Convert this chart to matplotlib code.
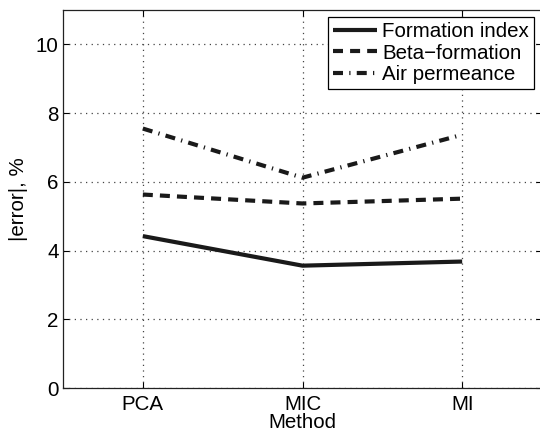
import matplotlib
matplotlib.use("Agg")
import matplotlib.pyplot as plt

methods = ["PCA", "MIC", "MI"]
formation_index = [4.42, 3.56, 3.68]
beta_formation = [5.63, 5.37, 5.51]
air_permeance = [7.55, 6.12, 7.37]
yticks = [0, 2, 4, 6, 8, 10]

plt.rcParams['font.family'] = ['Liberation Sans', 'DejaVu Sans']
fs = 14.8

fig = plt.figure(figsize=(5.4, 4.34), dpi=100)
ax = fig.add_axes([63/540, 1 - 388/434, (542-63)/540, (388-10)/434])

x = list(range(1, len(methods) + 1))
c = '#1a1a1a'
ax.plot(x, formation_index, color=c, lw=3, solid_capstyle='butt', label='Formation index')
ax.plot(x, beta_formation, color=c, lw=3, dashes=(2.4, 1.7), dash_capstyle='butt', label='Beta\u2212formation')
ax.plot(x, air_permeance, color=c, lw=3, dashes=(2.4, 1.5, 0.3, 1.5), dash_capstyle='butt', label='Air permeance')

ax.set_xlim(0.5, len(methods) + 0.5)
ax.set_ylim(0, 11)
ax.set_xticks(x)
ax.set_xticklabels(methods)
ax.set_yticks(yticks)
ax.tick_params(direction='in', length=4, width=0.8, labelsize=fs, top=True, right=True, colors='black')
ax.tick_params(axis='y', pad=3)
ax.tick_params(axis='x', pad=5)
ax.grid(True, color='#444444', linestyle=(0, (1, 3.5)), lw=0.9)
ax.set_axisbelow(True)
for s in ax.spines.values():
    s.set_linewidth(0.9)
    s.set_color('#222222')

ax.set_xlabel('Method', fontsize=fs, labelpad=-1)
ax.set_ylabel('|error|, %', fontsize=fs, labelpad=6)

leg = ax.legend(loc='upper right', bbox_to_anchor=(534/540, 1 - 17/434), bbox_transform=fig.transFigure,
                fontsize=fs, frameon=True, fancybox=False, framealpha=1, edgecolor='black',
                handlelength=2.15, handletextpad=0.25, borderpad=0.25, labelspacing=0.12, borderaxespad=0)
leg.get_frame().set_linewidth(0.9)

fig.savefig('out.png', dpi=100)
